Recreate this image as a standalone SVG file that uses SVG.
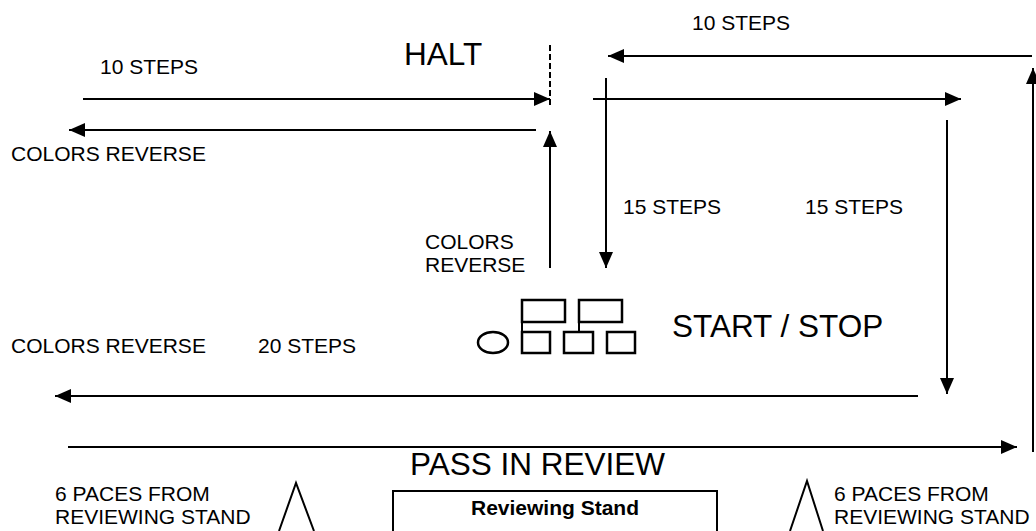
<svg xmlns="http://www.w3.org/2000/svg" width="1036" height="531" viewBox="0 0 1036 531">
<defs>
<marker id="ah" markerUnits="userSpaceOnUse" markerWidth="17" markerHeight="15" refX="16" refY="7" orient="auto">
<path d="M0,0 L16,7 L0,14 z" fill="#000"/>
</marker>
<style>
.t{font-family:"Liberation Sans",Arial,sans-serif;font-size:21px;fill:#000}
.big{font-family:"Liberation Sans",Arial,sans-serif;font-size:31.5px;fill:#000}
.bold{font-family:"Liberation Sans",Arial,sans-serif;font-size:21px;font-weight:bold;fill:#000}
.ln{stroke:#000;stroke-width:2;fill:none}
.ar{stroke:#000;stroke-width:2;fill:none;marker-end:url(#ah)}
.sh{stroke:#000;stroke-width:2.5;fill:#fff}
</style>
</defs>
<rect width="1036" height="531" fill="#fff"/>
<g id="connectors">
<line class="ar" x1="83" y1="99" x2="550" y2="99"/>
<line class="ar" x1="536" y1="130" x2="69" y2="130"/>
<line class="ar" x1="550" y1="268" x2="550" y2="131"/>
<line class="ln" x1="550" y1="45" x2="550" y2="107" stroke-dasharray="6,3"/>
<line class="ar" x1="1032" y1="56" x2="608" y2="56"/>
<line class="ar" x1="606" y1="78" x2="606" y2="268"/>
<line class="ar" x1="593" y1="99" x2="961" y2="99"/>
<line class="ar" x1="947" y1="120" x2="947" y2="394"/>
<line class="ar" x1="918" y1="396" x2="55" y2="396"/>
<line class="ar" x1="68" y1="447" x2="1017" y2="447"/>
<line class="ar" x1="1033" y1="452" x2="1033" y2="68"/>
</g>
<g id="labels">
<text class="t" x="100" y="74">10 STEPS</text>
<text class="t" x="11" y="161">COLORS REVERSE</text>
<text class="big" x="404" y="65">HALT</text>
<text class="t" x="692" y="30">10 STEPS</text>
<text class="t" x="623" y="214">15 STEPS</text>
<text class="t" x="805" y="214">15 STEPS</text>
<text class="t" x="425" y="249">COLORS</text>
<text class="t" x="425" y="272">REVERSE</text>
<text class="t" x="11" y="353">COLORS REVERSE</text>
<text class="t" x="258" y="353">20 STEPS</text>
<text class="big" x="410" y="475">PASS IN REVIEW</text>
</g>
<g id="formation">
<ellipse class="sh" cx="493" cy="342.5" rx="15" ry="10.5"/>
<line class="ln" x1="522" y1="322" x2="522" y2="332" stroke-width="2.5"/>
<line class="ln" x1="579" y1="322" x2="579" y2="332" stroke-width="2.5"/>
<rect class="sh" x="522" y="300" width="43" height="22"/>
<rect class="sh" x="579" y="300" width="43" height="22"/>
<rect class="sh" x="522" y="332" width="28" height="21"/>
<rect class="sh" x="564" y="332" width="29" height="21"/>
<rect class="sh" x="607" y="332" width="28" height="21"/>
<text class="big" x="672" y="337">START / STOP</text>
</g>
<g id="stand">
<rect x="393" y="491" width="324" height="60" fill="#fff" stroke="#000" stroke-width="2"/>
<text class="bold" x="555" y="515" text-anchor="middle">Reviewing Stand</text>
</g>
<g id="marker-left">
<polyline class="ln" points="279,531 296,483 314,531"/>
<text class="t" x="55" y="501">6 PACES FROM</text>
<text class="t" x="55" y="524">REVIEWING STAND</text>
</g>
<g id="marker-right">
<polyline class="ln" points="790,531 807,481 823,531"/>
<text class="t" x="834" y="501">6 PACES FROM</text>
<text class="t" x="834" y="524">REVIEWING STAND</text>
</g>
</svg>
